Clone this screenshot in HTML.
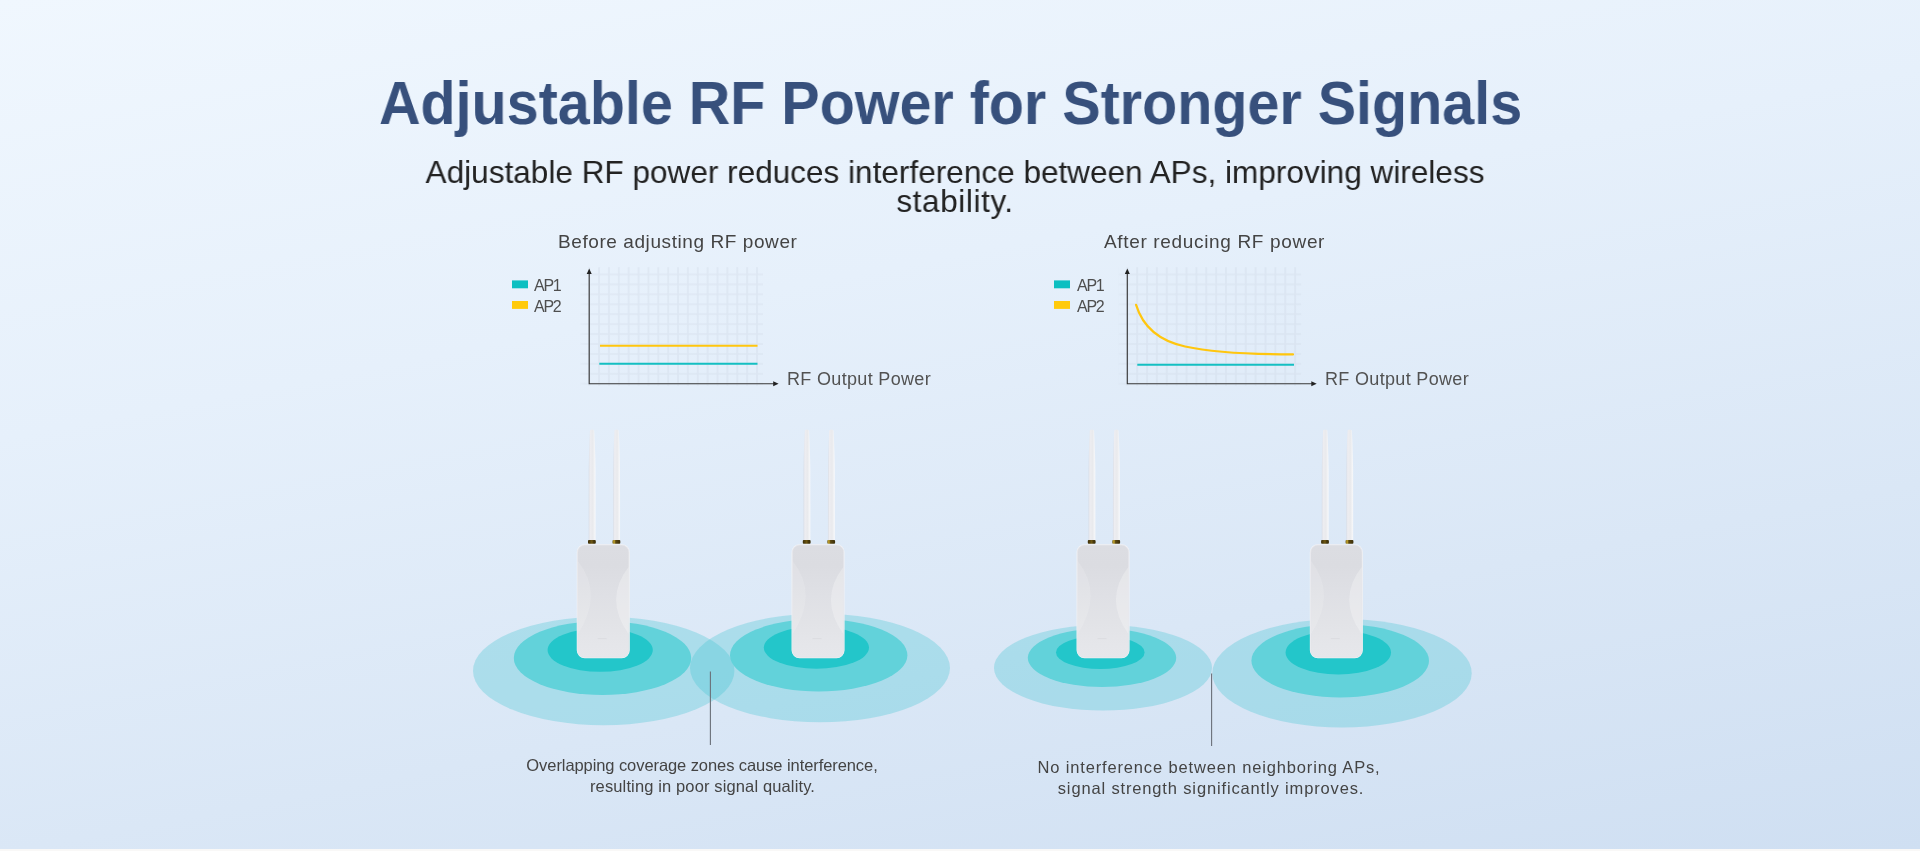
<!DOCTYPE html>
<html lang="en">
<head>
<meta charset="utf-8">
<title>Adjustable RF Power for Stronger Signals</title>
<style>
  html, body { margin: 0; padding: 0; }
  body {
    width: 1920px; height: 851px; overflow: hidden; position: relative;
    font-family: "Liberation Sans", sans-serif;
    background: #f9f8f7;
  }
  .stage {
    position: absolute; left: 0; top: 0; width: 1920px; height: 849px;
    background: linear-gradient(169.1deg, #f0f7fe 0%, #e6f0fb 36%, #dae7f6 70%, #cfdff2 100%);
    overflow: hidden;
  }
  .t { position: absolute; white-space: nowrap; margin: 0; will-change: transform; }
  h1.t {
    left: 379px; top: 67px; text-align: left;
    font-size: 61px; line-height: 72px; font-weight: bold; color: #37507c;
    transform-origin: 0 0; transform: scaleX(0.9421);
  }
  p.sub {
    left: 354.5px; top: 157.5px; width: 1200px; text-align: center;
    font-size: 32px; line-height: 29px; color: #222;
    transform-origin: 50% 0; transform: scaleX(0.9856);
  }
  .lbl { font-size: 19px; line-height: 22px; color: #444; letter-spacing: 0.58px; }
  .leg { font-size: 16px; line-height: 18px; color: #4e4e4e; letter-spacing: -1.25px; }
  .axis { font-size: 18px; line-height: 20px; color: #525252; letter-spacing: 0.33px; }
  .cap { font-size: 16.5px; line-height: 21px; color: #444; text-align: center; }
  svg.gfx { position: absolute; left: 0; top: 0; }
</style>
</head>
<body>
<div class="stage">

<svg class="gfx" width="1920" height="849" viewBox="0 0 1920 849">
  <defs>
<pattern id="grid" x="-4.935" y="-4.965" width="9.87" height="9.93" patternUnits="userSpaceOnUse">
      <path d="M4.935 0V9.93M0 4.965H9.87" stroke="#c3ccda" stroke-width="1.7" fill="none"/>
    </pattern>
    <linearGradient id="fadeH" x1="0" y1="0" x2="1" y2="0">
      <stop offset="0" stop-color="#fff" stop-opacity="0.25"/>
      <stop offset="0.06" stop-color="#fff" stop-opacity="1"/>
      <stop offset="0.93" stop-color="#fff" stop-opacity="1"/>
      <stop offset="1" stop-color="#fff" stop-opacity="0.25"/>
    </linearGradient>
    <mask id="gmaskL" maskUnits="userSpaceOnUse" x="-12" y="-120" width="200" height="124">
      <rect x="-12" y="-120" width="200" height="124" fill="url(#fadeH)"/>
    </mask>
    <linearGradient id="bodyG" x1="0" y1="0" x2="1" y2="0">
      <stop offset="0" stop-color="#dfe2e8"/>
      <stop offset="0.12" stop-color="#e6e8ed"/>
      <stop offset="0.85" stop-color="#e9ebf0"/>
      <stop offset="1" stop-color="#dcdfe6"/>
    </linearGradient>
    <linearGradient id="antG" x1="0" y1="0" x2="1" y2="0">
      <stop offset="0" stop-color="#d9dee7"/>
      <stop offset="0.22" stop-color="#ededf1"/>
      <stop offset="0.6" stop-color="#e9eaed"/>
      <stop offset="1" stop-color="#f8f9fb"/>
    </linearGradient>
    <linearGradient id="goldG" x1="0" y1="0" x2="1" y2="0">
      <stop offset="0" stop-color="#3a2d08"/>
      <stop offset="0.5" stop-color="#6e5712"/>
      <stop offset="0.7" stop-color="#4a3a0b"/>
      <stop offset="1" stop-color="#3a2d08"/>
    </linearGradient>
    <linearGradient id="goldG2" x1="0" y1="0" x2="1" y2="0">
      <stop offset="0" stop-color="#6b5714"/>
      <stop offset="0.2" stop-color="#c9aa30"/>
      <stop offset="0.42" stop-color="#5a4710"/>
      <stop offset="1" stop-color="#3a2d08"/>
    </linearGradient>
    <linearGradient id="bodyV" x1="0" y1="0" x2="0" y2="1">
      <stop offset="0" stop-color="#dcdde2"/>
      <stop offset="0.18" stop-color="#dbdce1"/>
      <stop offset="0.45" stop-color="#dfe0e5"/>
      <stop offset="0.69" stop-color="#e2e3e7"/>
      <stop offset="0.89" stop-color="#e5e6ea"/>
      <stop offset="1" stop-color="#e6e7eb"/>
    </linearGradient>
    <filter id="soft" x="-20%" y="-20%" width="140%" height="140%"><feGaussianBlur stdDeviation="0.55"/></filter>
    <g id="ap">
      <!-- antennas -->
      <path d="M11.95 -3.6 L11.95 -40 L12.00 -75 L12.25 -88 L12.75 -103 L13.25 -113.4 Q15.40 -115.4 17.55 -113.4 L18.05 -103 L18.55 -88 L18.80 -75 L18.85 -40 L18.85 -3.6 Z" fill="url(#antG)"/>
      <path d="M36.45 -3.6 L36.45 -40 L36.50 -75 L36.75 -88 L37.25 -103 L37.75 -113.4 Q39.90 -115.4 42.05 -113.4 L42.55 -103 L43.05 -88 L43.30 -75 L43.35 -40 L43.35 -3.6 Z" fill="url(#antG)"/>
      <rect x="11.3" y="-4" width="7.8" height="3.7" rx="0.9" fill="url(#goldG)"/>
      <rect x="35.8" y="-4" width="7.8" height="3.7" rx="0.9" fill="url(#goldG2)"/>
      <!-- body -->
      <rect x="0.7" y="0.9" width="51.7" height="112.7" rx="7.4" ry="7.4" fill="none" stroke="#f3f4f7" stroke-width="1.3" filter="url(#soft)"/>
      <rect x="0.9" y="1.1" width="51.3" height="112.3" rx="7.1" ry="7.1" fill="url(#bodyV)" stroke="#e6e7eb" stroke-width="0.7"/>
      <path d="M1.2 17 Q27 50 1.2 90 Z" fill="#ffffff" opacity="0.14" filter="url(#soft)"/>
      <path d="M51.9 23 Q27 55 51.9 90 Z" fill="#ffffff" opacity="0.27" filter="url(#soft)"/>
      <path d="M21 94.6H30" stroke="#d2d3d8" stroke-width="0.5"/>
    </g>
  </defs>

  <!-- ===== Left chart ===== -->
  <g id="chartL" transform="translate(589.2 383.7)">
    <rect x="-8.8" y="-116.5" width="182.6" height="118.5" fill="url(#grid)" opacity="0.25" mask="url(#gmaskL)"/>
    <rect x="-77.2" y="-103.3" width="16" height="7.9" fill="#0cbfc1"/>
    <rect x="-77.2" y="-82.7" width="16" height="7.9" fill="#ffca0c"/>
    <path d="M0 -111V0H185" stroke="#383838" stroke-width="1.15" fill="none"/>
    <path d="M0 -115.2L-2.5 -109.8H2.5Z" fill="#222"/>
    <path d="M189.4 0L184 -2.5V2.5Z" fill="#222"/>
    <path d="M10.8 -38H168.3" stroke="#ffc60e" stroke-width="2"/>
    <path d="M10.1 -19.9H168.3" stroke="#14bfc2" stroke-width="2"/>
  </g>
  <!-- ===== Right chart ===== -->
  <g id="chartR" transform="translate(1127.3 383.7)">
    <rect x="-8.8" y="-116.5" width="182.6" height="118.5" fill="url(#grid)" opacity="0.25" mask="url(#gmaskL)"/>
    <rect x="-73.3" y="-103.3" width="16" height="7.9" fill="#0cbfc1"/>
    <rect x="-73.3" y="-82.7" width="16" height="7.9" fill="#ffca0c"/>
    <path d="M0 -111V0H185" stroke="#383838" stroke-width="1.15" fill="none"/>
    <path d="M0 -115.2L-2.5 -109.8H2.5Z" fill="#222"/>
    <path d="M189.4 0L184 -2.5V2.5Z" fill="#222"/>
    <path d="M8.8 -78.8 C15.8 -55.7 32.8 -42.7 57.8 -37.2 C87.8 -30.7 127.8 -29.3 165.7 -29.3" stroke="#ffc60e" stroke-width="2.2" fill="none" stroke-linecap="round"/>
    <path d="M10 -19H166.7" stroke="#14bfc2" stroke-width="2"/>
  </g>
  <!-- ===== Coverage ellipses ===== -->
  <g id="cover">
    <ellipse cx="603.7" cy="670.9" rx="130.7" ry="54.3" fill="#3cc4d0" fill-opacity="0.3"/>
    <ellipse cx="820" cy="668" rx="130" ry="54.3" fill="#3cc4d0" fill-opacity="0.3"/>
    <ellipse cx="602.5" cy="658" rx="88.7" ry="37" fill="#62d2da"/>
    <ellipse cx="818.7" cy="655.2" rx="88.7" ry="36.2" fill="#62d2da"/>
    <ellipse cx="600.2" cy="650.1" rx="52.6" ry="21.7" fill="#23c6ca"/>
    <ellipse cx="816.4" cy="647.6" rx="52.6" ry="21.1" fill="#23c6ca"/>

    <ellipse cx="1103" cy="667.8" rx="109" ry="42.8" fill="#3cc4d0" fill-opacity="0.3"/>
    <ellipse cx="1342" cy="673.2" rx="129.7" ry="54.3" fill="#3cc4d0" fill-opacity="0.3"/>
    <ellipse cx="1102" cy="657.8" rx="74.2" ry="29.2" fill="#62d2da"/>
    <ellipse cx="1340.2" cy="660.7" rx="88.8" ry="36.7" fill="#62d2da"/>
    <ellipse cx="1100.3" cy="652.4" rx="44.3" ry="16.5" fill="#23c6ca"/>
    <ellipse cx="1338.3" cy="652.5" rx="52.7" ry="22" fill="#23c6ca"/>
  </g>
  <!-- pointer lines -->
  <path d="M710.4 671.5V745" stroke="#6b7079" stroke-width="1.1"/>
  <path d="M1211.6 673.5V746" stroke="#6b7079" stroke-width="1.1"/>
  <!-- ===== Devices ===== -->
  <use href="#ap" x="576.7" y="544"/>
  <use href="#ap" x="791.5" y="544"/>
  <use href="#ap" x="1076.5" y="544"/>
  <use href="#ap" x="1309.8" y="544"/>

</svg>

<h1 class="t" id="title">Adjustable RF Power for Stronger Signals</h1>
<p class="t sub" id="sub">Adjustable RF power reduces interference between APs, improving wireless<br><span style="letter-spacing:0.6px">stability.</span></p>


<div class="t lbl" id="lblL" style="left:558px;top:231px">Before adjusting RF power</div>
<div class="t lbl" id="lblR" style="left:1104px;top:231px;letter-spacing:0.66px">After reducing RF power</div>
<div class="t leg" id="ap1L" style="left:534px;top:277px">AP1</div>
<div class="t leg" id="ap2L" style="left:534px;top:297.5px">AP2</div>
<div class="t leg" id="ap1R" style="left:1076.5px;top:277px">AP1</div>
<div class="t leg" id="ap2R" style="left:1076.5px;top:297.5px">AP2</div>
<div class="t axis" id="axL" style="left:787px;top:369px">RF Output Power</div>
<div class="t axis" id="axR" style="left:1324.5px;top:369px">RF Output Power</div>

<div class="t cap" id="capL" style="left:502px;top:755px;width:400px"><span style="letter-spacing:-0.08px">Overlapping coverage zones cause interference,</span><br><span style="letter-spacing:0.13px;padding-left:1px">resulting in poor signal quality.</span></div>
<div class="t cap" id="capR" style="left:1008.8px;top:756.5px;width:400px;letter-spacing:0.85px">No interference between neighboring APs,<br><span style="padding-left:4px">signal strength significantly improves.</span></div>


</div>
</body>
</html>
